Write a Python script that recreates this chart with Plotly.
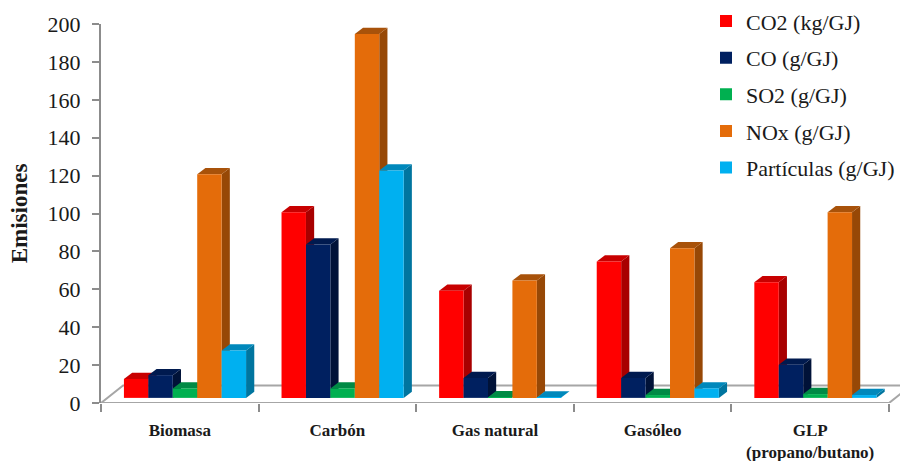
import plotly.graph_objects as go

categories = ["Biomasa", "Carbón", "Gas natural", "Gasóleo", "GLP<br>(propano/butano)"]
co2 = [10, 98, 56.5, 72, 61]
co = [12, 81, 10.5, 10.5, 17.5]
so2 = [5, 5, 0.3, 1.5, 2]
nox = [118, 192, 62, 79, 98]
particulas = [25, 120, 0.2, 5, 1.5]
series_names = ["CO2 (kg/GJ)", "CO (g/GJ)", "SO2 (g/GJ)", "NOx (g/GJ)", "Partículas (g/GJ)"]
series_values = [co2, co, so2, nox, particulas]
front_colors = ["#ff0000", "#002060", "#00b050", "#e46c0a", "#00b0f0"]
side_colors = ["#a80000", "#001238", "#00763a", "#974806", "#00759f"]
top_colors = ["#c80000", "#001a4f", "#008a45", "#a8520a", "#0088bb"]
y_ticks = list(range(0, 201, 20))

SERIF = "Liberation Serif"
TEXT = "#1a1a1a"
BASE = 2.7        # bars stand on the floor, slightly behind the front edge
BAR_W = 0.155     # bar width, category units
DX, DY = 0.052, 3.3   # extrusion of each bar, data units
GROUP = 0.533     # group centre inside its category
FLOOR_X, FLOOR_Y = 0.14, 9.3
X_MAX = 799 / 157.6

fig = go.Figure()

# floor outline, bottom layer
floor = dict(mode="lines", line=dict(color="#a6a6a6", width=2), hoverinfo="skip",
             showlegend=False, cliponaxis=False)
fig.add_trace(go.Scatter(x=[0, 5], y=[0, 0], **floor))
fig.add_trace(go.Scatter(x=[0, FLOOR_X, X_MAX], y=[0, FLOOR_Y, FLOOR_Y], **floor))
fig.add_trace(go.Scatter(x=[5, 5 + FLOOR_X], y=[0, FLOOR_Y], **floor))

# extruded faces, under every front face
for s, values in enumerate(series_values):
    for c, v in enumerate(values):
        left = c + GROUP + (s - 2.5) * BAR_W
        right = left + BAR_W
        top = BASE + v
        fig.add_trace(go.Scatter(
            x=[right, right + DX, right + DX, right, right],
            y=[BASE, BASE + DY, top + DY, top, BASE],
            mode="lines", fill="toself", fillcolor=side_colors[s],
            line=dict(width=0), hoverinfo="skip", showlegend=False))
        fig.add_trace(go.Scatter(
            x=[left, left + DX, right + DX, right, left],
            y=[top, top + DY, top + DY, top, top],
            mode="lines", fill="toself", fillcolor=top_colors[s],
            line=dict(width=0), hoverinfo="skip", showlegend=False))

# front faces, top layer
for s, values in enumerate(series_values):
    fig.add_trace(go.Bar(
        x=[c + GROUP for c in range(len(categories))], y=values, base=BASE,
        name=series_names[s], marker=dict(color=front_colors[s], line=dict(width=0)),
        legendgroup=series_names[s], xaxis="x2", yaxis="y2"))

fig.update_layout(
    width=900, height=461, autosize=False,
    margin=dict(l=101, r=0, t=24, b=58.3),
    paper_bgcolor="white", plot_bgcolor="white",
    barmode="group", bargap=1 - 5 * BAR_W, bargroupgap=0,
    font=dict(family=SERIF, color=TEXT),
    xaxis=dict(range=[0, X_MAX], tickmode="array",
               tickvals=[c + 0.5 for c in range(len(categories))], ticktext=categories,
               ticks="", showgrid=False, zeroline=False, showline=False,
               tickfont=dict(size=17, family=SERIF, color=TEXT, weight="bold"),
               ticklabelstandoff=15,
               minor=dict(tickmode="array", tickvals=list(range(6)), ticks="outside",
                          ticklen=8, tickwidth=1.5, tickcolor="#8c8c8c", showgrid=False)),
    yaxis=dict(range=[0, 200], tickmode="array", tickvals=y_ticks,
               ticks="outside", ticklen=7, tickwidth=1.5, tickcolor="#8c8c8c",
               showgrid=False, zeroline=False, showline=True, linecolor="#8c8c8c", linewidth=2,
               tickfont=dict(size=22, family=SERIF, color=TEXT), ticklabelstandoff=7,
               title=dict(text="<b>Emisiones</b>", font=dict(size=23, family=SERIF, color=TEXT), standoff=14)),
    xaxis2=dict(overlaying="x", matches="x", visible=False),
    yaxis2=dict(overlaying="y", matches="y", visible=False),
    legend=dict(x=0.7575, xanchor="left", y=1.0625, yanchor="top", bgcolor="rgba(0,0,0,0)",
                font=dict(size=22, family=SERIF, color=TEXT),
                traceorder="grouped", tracegroupgap=5),
)
fig.write_html("out.html", post_script="document.body.style.margin='0';",
               config={"displayModeBar": False})
